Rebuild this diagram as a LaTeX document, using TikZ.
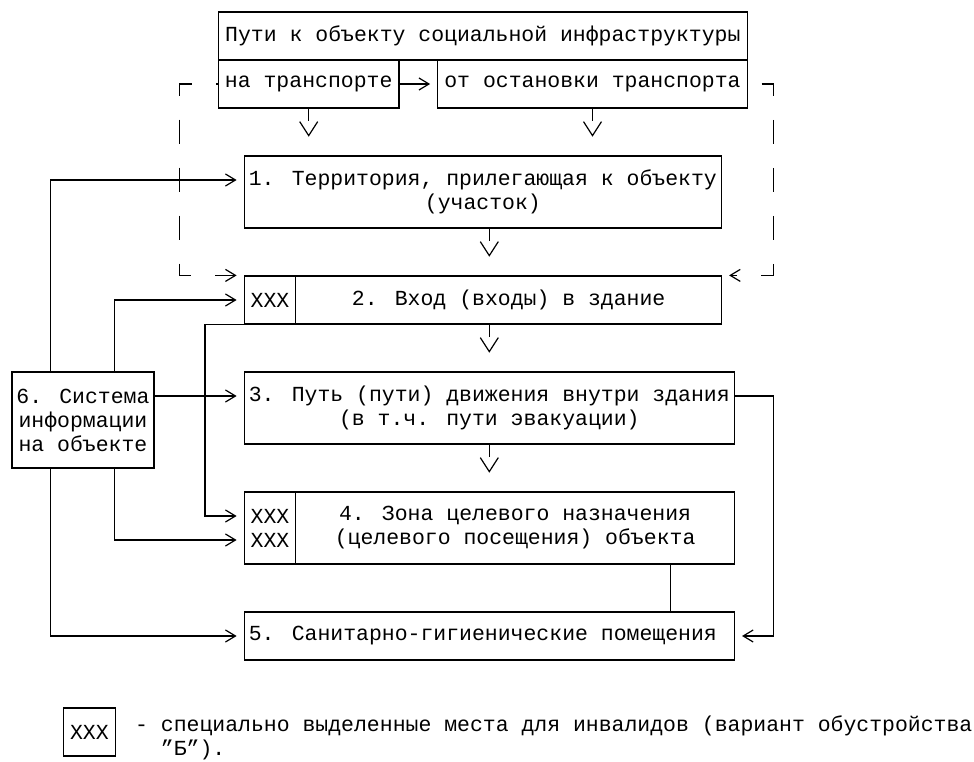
\documentclass[tikz,border=0pt]{standalone}
\usepackage{fontspec}
\setmainfont{Liberation Mono}
\usetikzlibrary{arrows.meta}

\tikzset{
  kasten/.style={draw, inner sep=0pt},
  pfeil/.style={-{Straight Barb[length=7.5pt,width=9pt]}, shorten >=5.25pt},
  runter/.style={-{Straight Barb[length=10.5pt,width=13.5pt]}, dash pattern=on 9pt off 100pt, shorten >=14pt},
  strich/.style={dash pattern=on 18pt off 18pt},
}

\begin{document}
\begin{tikzpicture}[x=0.75pt, y=0.75pt, line width=0.9pt, font=\fontsize{16.1}{18}\selectfont]
  \useasboundingbox (0,0) rectangle (974,-762);

  % Kopf
  \node[kasten, minimum width=396.68pt, minimum height=36pt] (wege) at (482.85,-36) {Пути к объекту социальной инфраструктуры};
  \node[kasten, minimum width=135.45pt, minimum height=36pt] (transp) at (308.7,-84) {на транспорте};
  \node[kasten, minimum width=232.2pt, minimum height=36pt] (halt) at (592.5,-84) {от остановки транспорта};
  \draw[pfeil] (transp.east) -- (halt.west);

  % Kaesten 1 bis 5
  \node[kasten, align=center, minimum width=357.98pt, minimum height=54pt] (terr) at (482.85,-192) {1. Территория, прилегающая к объекту\\(участок)};
  \node[kasten, minimum width=38.7pt, minimum height=36pt] (xeing) at (270,-300) {XXX};
  \node[kasten, minimum width=319.28pt, minimum height=36pt] (eing) at (508.65,-300) {2. Вход (входы) в здание};
  \node[kasten, align=center, minimum width=367.65pt, minimum height=54pt] (weg) at (489.3,-408) {3. Путь (пути) движения внутри здания\\(в т.ч. пути эвакуации)};
  \node[kasten, align=center, minimum width=38.7pt, minimum height=54pt] (xzone) at (270,-528) {XXX\\XXX};
  \node[kasten, align=center, minimum width=328.95pt, minimum height=54pt] (zone) at (515.1,-528) {4. Зона целевого назначения\\(целевого посещения) объекта};
  \node[kasten, minimum width=367.65pt, minimum height=36pt] (sanit) at (489.3,-636) {5. Санитарно-гигиенические помещения\hspace*{0.6em}};

  % Kasten 6
  \node[kasten, align=center, minimum width=106.43pt, minimum height=72pt] (info) at (82.95,-420) {6. Система\\информации\\на объекте};

  % Pfeile nach unten
  \draw[runter] (transp.south) -- (transp.south |- terr.north);
  \draw[runter] (halt.south) -- (halt.south |- terr.north);
  \draw[runter] (terr.south -| weg.north) -- (eing.north -| weg.north);
  \draw[runter] (eing.south -| weg.north) -- (weg.north);
  \draw[runter] (weg.south) -- (weg.south |- zone.north);

  % 4 -> 5
  \coordinate (v45) at ([xshift=-48.375pt]zone.south east);
  \draw (v45) -- (v45 |- sanit.north);

  % gestrichelte Wege
  \draw[strich, dash phase=16.3pt, pfeil] (transp.west) -- ++(-38.7,0) |- (xeing.north west);
  \draw[strich, dash phase=25.65pt, pfeil] (halt.east) -- ++(25.8,0) |- (eing.north east);

  % Informationslinien
  \coordinate (o3) at ([xshift=29.03pt]info.north west);
  \coordinate (o8) at ([xshift=77.4pt]info.north west);
  \coordinate (u3) at ([xshift=29.03pt]info.south west);
  \coordinate (u8) at ([xshift=77.4pt]info.south west);
  \draw[pfeil] (o3) |- ([yshift=9pt]terr.west);
  \draw[pfeil] (o8) |- (xeing.west);
  \draw[pfeil] ([yshift=18pt]info.east) -- ([yshift=18pt]info.east -| weg.west);
  \draw[pfeil] (u8) |- ([yshift=-9pt]xzone.west);
  \draw[pfeil] (u3) |- (sanit.west);

  % Eingang -> Zone
  \draw[pfeil] (xeing.south west) -- ++(-38.7,0) |- ([yshift=9pt]xzone.west);
  % Weg -> Sanitaer
  \draw[pfeil] ([yshift=9pt]weg.east) -- ++(38.7,0) |- (sanit.east);

  % Legende
  \node[kasten, minimum width=38.7pt, minimum height=36pt] (leg) at (89.4,-732) {XXX};
  \node[anchor=base west, align=left, inner sep=0pt] (legtext) at (134.55,-755.5) {- специально выделенные места для инвалидов (вариант обустройства\\\hspace*{1.2em}\symbol{34}Б\symbol{34}).};
\end{tikzpicture}
\end{document}
